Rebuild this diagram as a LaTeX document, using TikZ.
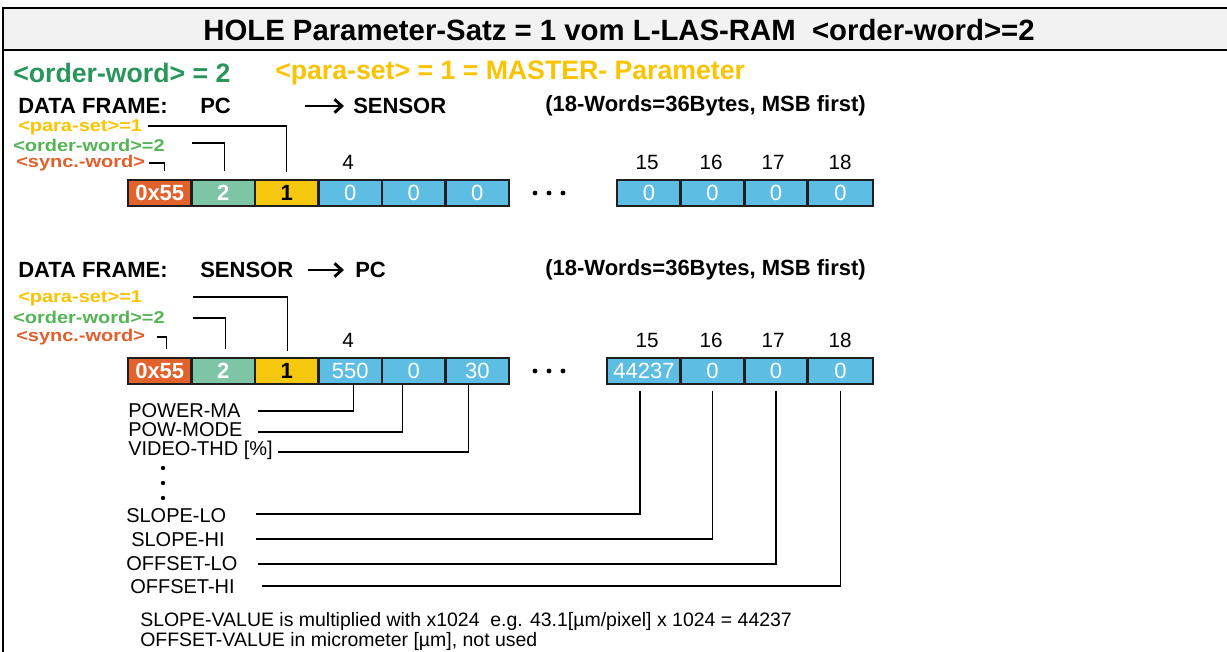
\documentclass[tikz,border=0pt]{standalone}
\usepackage{fontspec}
\setmainfont{Liberation Sans}
\newfontfamily\widesans[FakeStretch=1.17]{Liberation Sans}
\usetikzlibrary{calc,arrows.meta}
\definecolor{titlegray}{RGB}{242,242,242}
\definecolor{hdrgreen}{RGB}{40,150,90}
\definecolor{hdryellow}{RGB}{250,196,0}
\definecolor{lblgreen}{RGB}{85,180,85}
\definecolor{lblorange}{RGB}{225,95,45}
\definecolor{cellorange}{RGB}{226,98,43}
\definecolor{cellgreen}{RGB}{125,197,164}
\definecolor{cellyellow}{RGB}{245,199,15}
\definecolor{cellblue}{RGB}{94,189,227}
\begin{document}
\begin{tikzpicture}[x=0.75pt,y=-0.75pt,
  cell/.style={draw=black!88, line width=2.2pt, inner sep=0pt, minimum height=19.5pt, minimum width=47.6pt, font=\fontsize{16.5}{16.5}\selectfont, text=white},
  boldcell/.style={cell, font=\fontsize{16.5}{16.5}\selectfont\bfseries},
  framelbl/.style={anchor=west, inner sep=0pt, font=\fontsize{16.5}{16.5}\selectfont\bfseries},
  smalllbl/.style={anchor=west, inner sep=0pt, font=\widesans\fontsize{12.8}{12.8}\selectfont\bfseries},
  num/.style={inner sep=0pt, font=\fontsize{15.5}{15.5}\selectfont},
  fieldlbl/.style={anchor=west, inner sep=0pt, font=\fontsize{15}{15}\selectfont},
  notelbl/.style={anchor=west, inner sep=0pt, font=\fontsize{14.6}{14.6}\selectfont},
  conn/.style={line width=0.9pt, black},
  bigarrow/.style={line width=2.2pt, -{Straight Barb[length=5.5pt,width=10pt,line width=2.2pt]}},
  dot/.style={fill=black}
]
\useasboundingbox (0,0) rectangle (1227,652);
\begin{scope}
\clip (0,0) rectangle (1227,652);
\fill[white] (0,0) rectangle (1227,652);
\draw[line width=1.5pt, fill=titlegray] (3,8) rectangle (1240,50);
\draw[line width=1.5pt] (3,50) -- (3,700);
\end{scope}

% title
\node[inner sep=0pt, font=\fontsize{22}{22}\selectfont\bfseries] (title) at (619,30) {HOLE Parameter-Satz = 1 vom L-LAS-RAM\ \ <order-word>=2};

% header line
\node[anchor=west, inner sep=0pt, font=\fontsize{20}{20}\selectfont\bfseries, text=hdrgreen] (hdr1) at (13,73) {<order-word> = 2};
\node[anchor=west, inner sep=0pt, font=\fontsize{20}{20}\selectfont\bfseries, text=hdryellow] (hdr2) at (275,73) {<para-set> = 1 = MASTER- Parameter};

% ===== Frame 1 =====
\node[framelbl] (df1) at (18,106) {DATA FRAME:};
\node[framelbl] (df1a) at (200,106) {PC};
\coordinate (ar1s) at (305,106);
\coordinate (ar1e) at (344,106);
\draw[bigarrow] (ar1s) -- (ar1e);
\node[framelbl] (df1b) at (353,106) {SENSOR};
\node[framelbl] (df1c) at (545,106) {(18-Words=36Bytes, MSB first)};

\node[smalllbl, text=hdryellow] (lp1) at (18,127) {<para-set>=1};
\node[smalllbl, text=lblgreen] (lo1) at (13,145) {<order-word>=2};
\node[smalllbl, text=lblorange] (ls1) at (16,163) {<sync.-word>};

\node[num] (n4a) at (348,162) {4};
\node[num] (n15a) at (647,162) {15};
\node[num] (n16a) at (711,162) {16};
\node[num] (n17a) at (773,162) {17};
\node[num] (n18a) at (840,162) {18};

\node[boldcell, fill=cellorange] (a1) at (159.75,193) {0x55};
\node[boldcell, fill=cellgreen] (a2) at (223.25,193) {2};
\node[boldcell, fill=cellyellow, text=black] (a3) at (286.75,193) {1};
\node[cell, fill=cellblue] (a4) at (350.25,193) {0};
\node[cell, fill=cellblue] (a5) at (413.75,193) {0};
\node[cell, fill=cellblue] (a6) at (477.25,193) {0};
\node[cell, fill=cellblue, minimum width=48pt] (a15) at (649,193) {0};
\node[cell, fill=cellblue] (a16) at (712.5,193) {0};
\node[cell, fill=cellblue] (a17) at (776,193) {0};
\node[cell, fill=cellblue, minimum width=48.75pt] (a18) at (840.5,193) {0};
\foreach \x in {535,549,563} \fill[dot] (\x,193) circle (2.4);

\coordinate (lp1e) at (148,126);
\coordinate (lo1e) at (192,143);
\coordinate (ls1e) at (149,163);
\draw[conn] (lp1e) -| ($(a3.north)+(0,-7)$);
\draw[conn] (lo1e) -| ($(a2.north)+(1,-8)$);
\draw[conn] (ls1e) -| ($(a1.north)+(5,-8)$);

% ===== Frame 2 =====
\node[framelbl] (df2) at (18,270) {DATA FRAME:};
\node[framelbl] (df2a) at (200,270) {SENSOR};
\coordinate (ar2s) at (308,270);
\coordinate (ar2e) at (344,270);
\draw[bigarrow] (ar2s) -- (ar2e);
\node[framelbl] (df2b) at (355,270) {PC};
\node[framelbl] (df2c) at (545,270) {(18-Words=36Bytes, MSB first)};

\node[smalllbl, text=hdryellow] (lp2) at (18,298) {<para-set>=1};
\node[smalllbl, text=lblgreen] (lo2) at (13,317) {<order-word>=2};
\node[smalllbl, text=lblorange] (ls2) at (16,337) {<sync.-word>};

\node[num] (n4b) at (348,340) {4};
\node[num] (n15b) at (647,340) {15};
\node[num] (n16b) at (711,340) {16};
\node[num] (n17b) at (773,340) {17};
\node[num] (n18b) at (840,340) {18};

\node[boldcell, fill=cellorange] (b1) at (159.75,371) {0x55};
\node[boldcell, fill=cellgreen] (b2) at (223.25,371) {2};
\node[boldcell, fill=cellyellow, text=black] (b3) at (286.75,371) {1};
\node[cell, fill=cellblue] (b4) at (350.25,371) {550};
\node[cell, fill=cellblue] (b5) at (413.75,371) {0};
\node[cell, fill=cellblue] (b6) at (477.25,371) {30};
\node[cell, fill=cellblue, minimum width=55.5pt] (b15) at (644,371) {44237};
\node[cell, fill=cellblue] (b16) at (712.5,371) {0};
\node[cell, fill=cellblue] (b17) at (776,371) {0};
\node[cell, fill=cellblue, minimum width=48.75pt] (b18) at (840.5,371) {0};
\foreach \x in {535,549,563} \fill[dot] (\x,371) circle (2.4);

\coordinate (lp2e) at (193,297);
\coordinate (lo2e) at (193,318);
\coordinate (ls2e) at (157,337);
\draw[conn] (lp2e) -| ($(b3.north)+(1,-6)$);
\draw[conn] (lo2e) -| ($(b2.north)+(2,-8)$);
\draw[conn] (ls2e) -| ($(b1.north)+(7,-8)$);

% field labels
\node[fieldlbl] (fpm) at (128,411) {POWER-MA};
\node[fieldlbl] (fpw) at (128,430) {POW-MODE};
\node[fieldlbl] (fvt) at (128,450) {VIDEO-THD [\%]};
\foreach \y in {468,483,498} \fill[dot] (163,\y) circle (2.2);
\node[fieldlbl] (fsl) at (126,516) {SLOPE-LO};
\node[fieldlbl] (fsh) at (131,540) {SLOPE-HI};
\node[fieldlbl] (fol) at (126,564) {OFFSET-LO};
\node[fieldlbl] (foh) at (130,587) {OFFSET-HI};

\coordinate (cpm) at (258,411);
\coordinate (cpw) at (258,432);
\coordinate (cvt) at (278,452);
\coordinate (csl) at (256,514);
\coordinate (csh) at (256,539);
\coordinate (col) at (258,564);
\coordinate (coh) at (262,586);
\draw[conn] (cpm) -| ($(b4.south)+(3,0)$);
\draw[conn] (cpw) -| ($(b5.south)+(-11,0)$);
\draw[conn] (cvt) -| ($(b6.south)+(-9,0)$);
\draw[conn] (csl) -| ($(b15.south)+(-4,6)$);
\draw[conn] (csh) -| ($(b16.south)+(0,6)$);
\draw[conn] (col) -| ($(b17.south)+(0,6)$);
\draw[conn] (coh) -| ($(b18.south)+(0,6)$);

\node[notelbl] (note1) at (140,621) {SLOPE-VALUE is multiplied with x1024\ \ e.g. 43.1[µm/pixel] x 1024 = 44237};
\node[notelbl] (note2) at (140,641) {OFFSET-VALUE in micrometer [µm], not used};
\end{tikzpicture}
\end{document}
